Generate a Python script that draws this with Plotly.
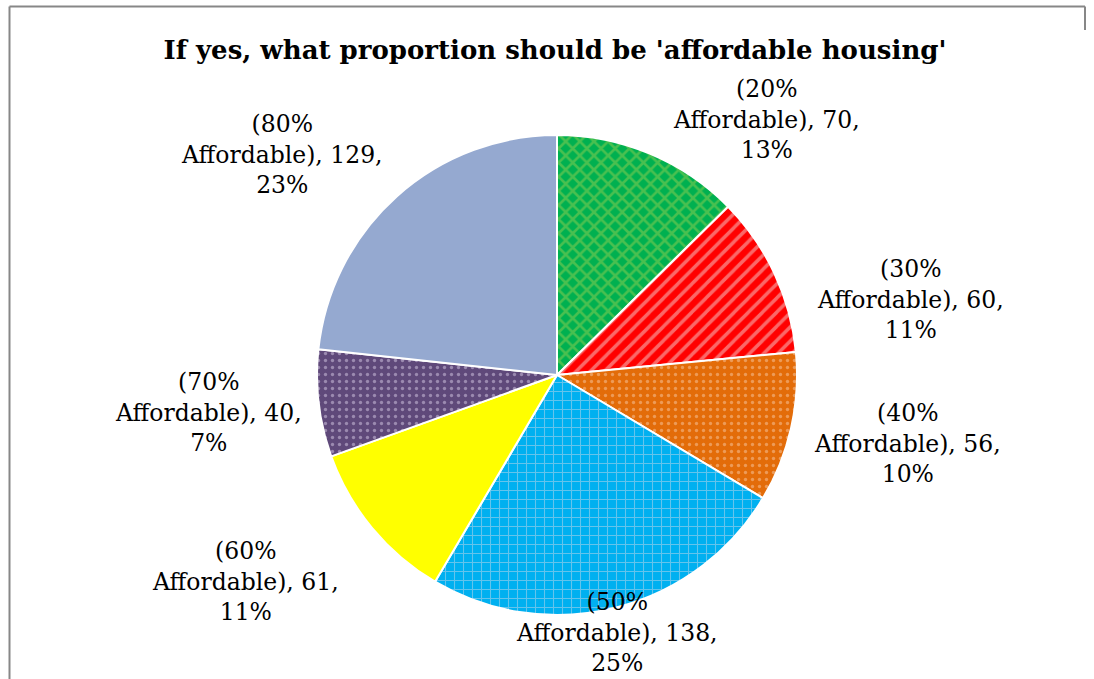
import math
import plotly.graph_objects as go

# ---- data ----
categories = ["(20% Affordable)", "(30% Affordable)", "(40% Affordable)",
              "(50% Affordable)", "(60% Affordable)", "(70% Affordable)",
              "(80% Affordable)"]
short_names = ["20%", "30%", "40%", "50%", "60%", "70%", "80%"]
counts = [70, 60, 56, 138, 61, 40, 129]
title_text = "If yes, what proportion should be 'affordable housing'"

# ---- styles ----
W, H = 1094, 679
colors = ["#00B050", "#FF0000", "#E36C09", "#00B0F0", "#FFFF00", "#5F497A", "#95A9D0"]
pat_shapes = ["x", "/", ".", "+", "", ".", ""]
pat_fg = ["#92D050", "#F6D0D0", "#F7C9A5", "#C8D8E8", "#FFFF00", "#D8CCE6", "#95A9D0"]
pat_size = [10, 10, 7, 9, 8, 7, 8]
pat_sol = [0.45, 0.35, 0.18, 0.22, 0.3, 0.18, 0.3]

CX, CY, R = 557, 375, 240   # pie centre / radius in pixels
FONT = "DejaVu Serif"

# label placement relative to pie centre (angle clockwise from top, distance px)
label_polar = [(39.3, 330), (78.0, 361), (101.0, 357), (166.9, 264),
               (236.4, 374), (263.8, 351), (308.7, 352)]

total = sum(counts)
fig = go.Figure(go.Pie(
    labels=categories, values=counts, sort=False, direction="clockwise",
    rotation=0, textinfo="none", hoverinfo="label+value+percent",
    marker=dict(colors=colors, line=dict(color="white", width=2),
                pattern=dict(shape=pat_shapes, fgcolor=pat_fg, bgcolor=colors,
                             size=pat_size, solidity=pat_sol, fillmode="overlay")),
    domain=dict(x=[(CX - R) / W, (CX + R) / W], y=[1 - (CY + R) / H, 1 - (CY - R) / H]),
    showlegend=False,
))

annotations = []
for name, c, (ang, dist) in zip(short_names, counts, label_polar):
    pct = round(100 * c / total)
    a = math.radians(ang)
    px = CX + dist * math.sin(a)
    py = CY - dist * math.cos(a)
    annotations.append(dict(
        x=px / W, y=1 - py / H, xref="paper", yref="paper",
        text=f"({name}<br>Affordable), {c},<br>{pct}%",
        showarrow=False, align="center", xanchor="center", yanchor="middle",
        font=dict(family=FONT, size=23.5, color="#000000"),
    ))

shapes = [
    dict(type="line", xref="paper", yref="paper", x0=9.5 / W, x1=9.5 / W, y0=0, y1=1 - 6.5 / H,
         line=dict(color="#878787", width=2)),
    dict(type="line", xref="paper", yref="paper", x0=9.5 / W, x1=1085 / W, y0=1 - 6.5 / H, y1=1 - 6.5 / H,
         line=dict(color="#878787", width=2)),
    dict(type="line", xref="paper", yref="paper", x0=1085 / W, x1=1085 / W, y0=1 - 6.5 / H, y1=1 - 30 / H,
         line=dict(color="#878787", width=2)),
]

fig.update_layout(
    width=W, height=H, margin=dict(l=0, r=0, t=0, b=0),
    paper_bgcolor="white", plot_bgcolor="white",
    title=dict(text=f"<b>{title_text}</b>", x=555 / W, y=1 - 50 / H,
               xanchor="center", yanchor="middle", xref="paper", yref="paper",
               font=dict(family=FONT, size=26, color="#000000")),
    annotations=annotations, shapes=shapes,
)

fig.write_html("out.html")
